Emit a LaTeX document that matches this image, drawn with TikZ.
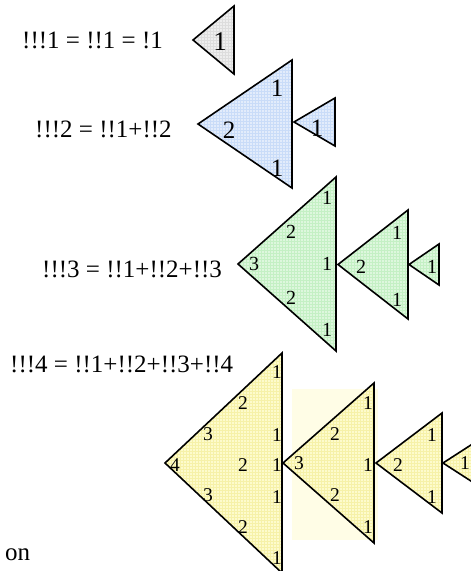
\documentclass[tikz,border=0pt]{standalone}
\usepackage{fontspec}
\setmainfont{Liberation Serif}
\usetikzlibrary{patterns}
\definecolor{fgray}{HTML}{EEEEEE}
\definecolor{fgrayp}{HTML}{DDDDDD}
\definecolor{fblue}{HTML}{E2ECFB}
\definecolor{fbluep}{HTML}{C9DCF8}
\definecolor{fgreen}{HTML}{DDF7DD}
\definecolor{fgreenp}{HTML}{C4F0C4}
\definecolor{fyellow}{HTML}{FDFBCC}
\definecolor{fyellowp}{HTML}{F6F1A8}
\definecolor{byellow}{HTML}{FFFDE6}
% tip x, tip y, right x, half height, fill colour, pattern colour
\newcommand\fishtri[6]{%
  \fill[#5] (#1,#2) -- (#3,#2-#4) -- (#3,#2+#4) -- cycle;
  \fill[pattern=grid, pattern color=#6] (#1,#2) -- (#3,#2-#4) -- (#3,#2+#4) -- cycle;
  \draw[tri] (#1,#2) -- (#3,#2-#4) -- (#3,#2+#4) -- cycle;}
\begin{document}
\begin{tikzpicture}[x=1pt,y=-1pt,
  tri/.style={draw=black, line width=1.6pt, line join=miter},
  eqn/.style={font=\fontsize{25}{25}\selectfont, inner sep=0pt, anchor=base west},
  lblA/.style={font=\fontsize{27}{27}\selectfont, inner sep=0pt},
  lblB/.style={font=\fontsize{25}{25}\selectfont, inner sep=0pt},
  lblC/.style={font=\fontsize{20}{20}\selectfont, inner sep=0pt},
  lblD/.style={font=\fontsize{19.5}{19.5}\selectfont, inner sep=0pt}]
\useasboundingbox (0,0) rectangle (471,571);
\clip (0,0) rectangle (471,571);

% texts
\node[eqn] (e1) at (22,48) {!!!1 = !!1 = !1};
\node[eqn] (e2) at (35,137) {!!!2 = !!1+!!2};
\node[eqn] (e3) at (42,277) {!!!3 = !!1+!!2+!!3};
\node[eqn] (e4) at (10,372) {!!!4 = !!1+!!2+!!3+!!4};
\node[eqn] (on) at (5,560) {on};

% row 1
\fishtri{193}{40}{234}{34}{fgray}{fgrayp}
\node[lblA] (a1) at (220,42) {1};

% row 2
\fishtri{198}{124}{292}{64}{fblue}{fbluep}
\fishtri{294}{122}{335}{24}{fblue}{fbluep}
\node[lblB] (b1) at (277,88) {1};
\node[lblB] (b2) at (229,130) {2};
\node[lblB] (b3) at (277,168) {1};
\node[lblB] (b4) at (317,128) {1};

% row 3
\fishtri{238}{264}{336}{87}{fgreen}{fgreenp}
\fishtri{338}{264.5}{408}{54.5}{fgreen}{fgreenp}
\fishtri{409}{264.5}{439}{20.5}{fgreen}{fgreenp}
\node[lblC] (c1) at (327,198) {1};
\node[lblC] (c2) at (291,232) {2};
\node[lblC] (c3) at (254,264) {3};
\node[lblC] (c4) at (327,264) {1};
\node[lblC] (c5) at (291,298) {2};
\node[lblC] (c6) at (327,330) {1};
\node[lblC] (c7) at (397,233) {1};
\node[lblC] (c8) at (361,267) {2};
\node[lblC] (c9) at (397,300) {1};
\node[lblC] (c10) at (432,267) {1};

% row 4
\fill[byellow] (292,389) rectangle (378,540);
\fishtri{165}{463}{282}{110}{fyellow}{fyellowp}
\fishtri{283}{463}{374}{80}{fyellow}{fyellowp}
\fishtri{376}{463}{442}{50}{fyellow}{fyellowp}
\fishtri{443}{463}{474}{20}{fyellow}{fyellowp}
\node[lblD] (d1) at (277,372) {1};
\node[lblD] (d2) at (243,403) {2};
\node[lblD] (d3) at (277,435) {1};
\node[lblD] (d4) at (208,434) {3};
\node[lblD] (d5) at (175,465) {4};
\node[lblD] (d6) at (243,465) {2};
\node[lblD] (d7) at (277,465) {1};
\node[lblD] (d8) at (208,495) {3};
\node[lblD] (d9) at (277,497) {1};
\node[lblD] (d10) at (243,527) {2};
\node[lblD] (d11) at (277,558) {1};
\node[lblD] (d12) at (368,403) {1};
\node[lblD] (d13) at (335,434) {2};
\node[lblD] (d14) at (299,463) {3};
\node[lblD] (d15) at (368,465) {1};
\node[lblD] (d16) at (335,495) {2};
\node[lblD] (d17) at (368,527) {1};
\node[lblD] (d18) at (432,435) {1};
\node[lblD] (d19) at (398,465) {2};
\node[lblD] (d20) at (432,497) {1};
\node[lblD] (d21) at (465,463) {1};
\end{tikzpicture}
\end{document}
